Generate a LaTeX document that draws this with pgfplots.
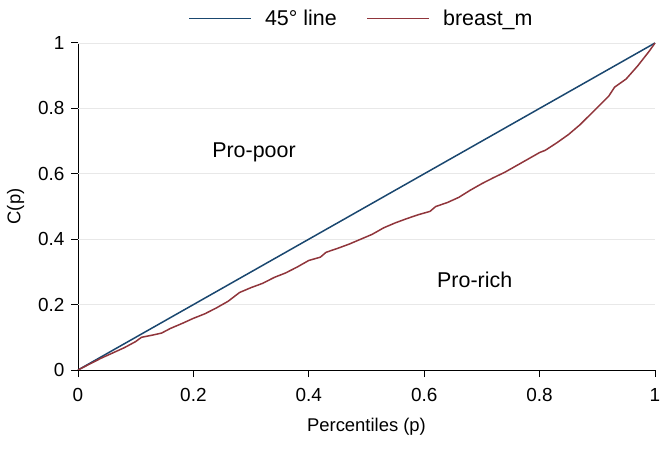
\documentclass[border=0pt]{standalone}
\usepackage{pgfplots}
\pgfplotsset{compat=1.18}
\usepackage{fontspec}
\setmainfont{Liberation Sans}
\definecolor{navy}{HTML}{1A476F}
\definecolor{maroon}{HTML}{90353B}
\begin{document}
\begin{tikzpicture}
\begin{axis}[
  scale only axis, width=577bp, height=327bp,
  xmin=0, xmax=1, ymin=0, ymax=1, clip=false,
  axis x line*=bottom, axis y line*=left,
  axis line style={black, line width=1pt, -},
  xtick={0,0.2,0.4,0.6,0.8,1}, ytick={0,0.2,0.4,0.6,0.8,1},
  tick align=outside, major tick length=7bp,
  tick style={black, line width=1pt},
  extra y ticks={0.2,0.4,0.6,0.8,1}, extra y tick labels={},
  extra y tick style={major tick length=0pt, ymajorgrids=true,
    major grid style={black!9, line width=0.8pt}},
  /pgf/number format/assume math mode=true,
  ticklabel style={font=\fontsize{19}{22}\selectfont},
  yticklabel style={xshift=-3bp},
  xticklabel style={yshift=-8bp},
  label style={font=\fontsize{18.5}{22}\selectfont},
  xlabel={Percentiles (p)}, ylabel={C(p)},
  xlabel style={at={(axis description cs:0.5,-0.175)}, anchor=center},
  ylabel style={at={(axis description cs:-0.108,0.5)}, anchor=center},
  legend style={at={(0.5,1.0)}, anchor=south, draw=none, fill=none,
    yshift=12bp, xshift=-5bp,
    font=\fontsize{21.5}{24}\selectfont, legend columns=2,
    /tikz/every odd column/.append style={column sep=11bp},
    /tikz/every even column/.append style={column sep=28bp}},
  legend cell align=left,
  legend image code/.code={\draw[#1, line width=1.5pt] (0bp,0bp) -- (62bp,0bp);},
]
\addplot[navy, line width=1.5pt] coordinates {(0,0) (1,1)};
\addlegendentry{45° line}
\addplot[maroon, line width=1.5pt] coordinates {
(0,0) (0.02,0.018) (0.04,0.036) (0.06,0.052) (0.08,0.068) (0.10,0.087)
(0.11,0.1) (0.13,0.107) (0.145,0.113) (0.16,0.127) (0.18,0.142) (0.20,0.158)
(0.22,0.172) (0.24,0.19) (0.26,0.21) (0.28,0.237) (0.30,0.252) (0.32,0.265)
(0.34,0.283) (0.36,0.297) (0.38,0.315) (0.40,0.335) (0.42,0.345) (0.43,0.36)
(0.45,0.372) (0.47,0.385) (0.49,0.4) (0.51,0.415) (0.53,0.435) (0.55,0.45)
(0.57,0.463) (0.59,0.475) (0.61,0.485) (0.62,0.5) (0.64,0.512) (0.66,0.528)
(0.68,0.55) (0.70,0.57) (0.72,0.588) (0.74,0.605) (0.76,0.625) (0.78,0.645)
(0.80,0.665) (0.81,0.672) (0.83,0.695) (0.85,0.72) (0.87,0.75) (0.89,0.785)
(0.91,0.82) (0.92,0.838) (0.93,0.865) (0.95,0.89) (0.97,0.93) (0.99,0.975)
(1.0,1.0)};
\addlegendentry{breast\_m}
\node[font=\fontsize{21.5}{24}\selectfont] at (axis cs:0.305,0.665) {Pro-poor};
\node[font=\fontsize{21.5}{24}\selectfont] at (axis cs:0.6875,0.275) {Pro-rich};
\pgfplotsinvokeforeach{0,0.2,0.4,0.6,0.8,1}{
  \draw[black, line width=1pt] (axis cs:#1,0) -- ++(0pt,-7bp);
  \draw[black, line width=1pt] (axis cs:0,#1) -- ++(-7bp,0pt);
}
\coordinate (ll) at (rel axis cs:0,0);
\coordinate (ur) at (rel axis cs:1,1);
\end{axis}
\pgfresetboundingbox
\path[use as bounding box] ([shift={(-78bp,-82bp)}]ll) rectangle ([shift={(14bp,43bp)}]ur);
\end{tikzpicture}
\end{document}
